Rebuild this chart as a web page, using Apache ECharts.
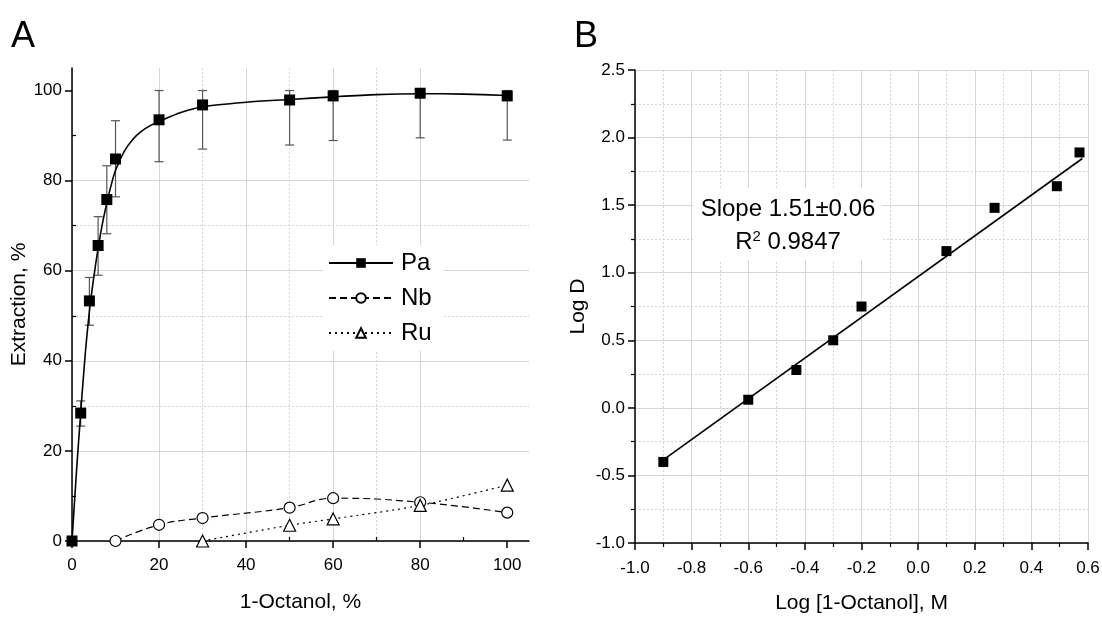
<!DOCTYPE html>
<html>
<head>
<meta charset="utf-8">
<script src="https://cdn.jsdelivr.net/npm/echarts@6/dist/echarts.min.js"></script>
<style>
html,body{margin:0;padding:0;background:#fff;}
#main{width:1102px;height:617px;}
</style>
</head>
<body>
<div id="main"></div>
<script>
// ---- Panel A data ----
const paX  = [0, 2, 4, 6, 8, 10, 20, 30, 50, 60, 80, 100];
const paY  = [0, 28.4, 53.3, 65.6, 75.8, 84.8, 93.5, 96.8, 97.9, 98.8, 99.4, 98.8];
const paLo = [null, 25.5, 47.9, 59.0, 68.2, 76.4, 84.2, 87.0, 87.9, 88.9, 89.5, 89.0];
const paHi = [null, 31.1, 58.5, 72.0, 83.3, 93.3, 100, 100, 100, 100, 100, 100];
// fitted Pa curve
const paFitX = [0, 1, 2, 3, 4, 5, 6, 7, 8, 9, 10, 12, 14, 16, 18, 20, 25, 30, 40, 50, 60, 70, 80, 90, 100];
const paFitY = [0, 15, 28.5, 41, 51, 58.5, 65, 70.5, 75, 79, 82.3, 86.5, 89.2, 91, 92.2, 93.1, 95.1, 96.4, 97.4, 98.0, 98.6, 99.1, 99.3, 99.2, 98.9];
const nbX  = [10, 20, 30, 50, 60, 80, 100];
const nbY  = [0, 3.6, 5.1, 7.4, 9.5, 8.6, 6.3];
const ruX  = [30, 50, 60, 80, 100];
const ruY  = [0, 3.5, 4.9, 7.9, 12.4];
const aXTicks = [0, 20, 40, 60, 80, 100];
const aYTicks = [0, 20, 40, 60, 80, 100];
const aXMinor = [10, 30, 50, 70, 90];
const aYMinor = [10, 30, 50, 70, 90];

// ---- Panel B data ----
const logC = [-0.9, -0.6, -0.43, -0.3, -0.2, 0.1, 0.27, 0.49, 0.57];
const logD = [-0.40, 0.06, 0.28, 0.50, 0.75, 1.16, 1.48, 1.64, 1.89];
const fitX = [-0.9, 0.58];
const fitY = [-0.385, 1.845];

const FONT = "'Liberation Sans', Arial, sans-serif";
const zip = (a, b) => a.map((v, i) => [v, b[i]]);

const chart = echarts.init(document.getElementById('main'), null, {renderer: 'canvas'});

const axisLineStyle = {show: true, onZero: false, lineStyle: {color: '#000', width: 1.5}};
const majorSplit = {show: true, lineStyle: {color: '#d6d6d6', width: 1, type: 'solid'}};
const minorSplit = {show: true, showMinLine: false, showMaxLine: false, lineStyle: {color: '#d6d6d6', width: 1, type: [2, 2]}};
const labelStyle = {color: '#000', fontSize: 17, fontFamily: FONT};
const nameStyle = {color: '#000', fontSize: 21, fontFamily: FONT};

const option = {
  animation: false,
  backgroundColor: '#fff',
  grid: [
    {left: 72, top: 68, width: 457, height: 473, containLabel: false, outerBoundsMode: 'none'},
    {left: 635, top: 70, width: 453, height: 473, containLabel: false, outerBoundsMode: 'none'}
  ],
  xAxis: [
    { // A main
      type: 'value', gridIndex: 0, min: 0, max: 105, interval: 20,
      axisLine: axisLineStyle,
      axisTick: {show: true, inside: false, length: 7, lineStyle: {color: '#000', width: 1.5}, customValues: aXTicks},
      axisLabel: Object.assign({margin: 16, customValues: aXTicks}, labelStyle),
      splitLine: Object.assign({showMaxLine: false}, majorSplit),
      name: '1-Octanol, %', nameLocation: 'middle', nameGap: 51, nameMoveOverlap: false, nameTextStyle: nameStyle
    },
    { // A minor overlay
      type: 'value', gridIndex: 0, min: 0, max: 105, interval: 10,
      axisLine: {show: false},
      axisTick: {show: true, length: 4, lineStyle: {color: '#000', width: 1.2}, customValues: aXMinor},
      axisLabel: {show: false},
      splitLine: minorSplit
    },
    { // B
      type: 'value', gridIndex: 1, min: -1.0, max: 0.6, interval: 0.2,
      axisLine: axisLineStyle,
      axisTick: {show: true, length: 7, lineStyle: {color: '#000', width: 1.5}},
      minorTick: {show: true, splitNumber: 2, length: 4, lineStyle: {color: '#000', width: 1.2}},
      axisLabel: Object.assign({margin: 17, formatter: v => v.toFixed(1)}, labelStyle),
      splitLine: majorSplit,
      minorSplitLine: {show: true, lineStyle: {color: '#d6d6d6', width: 1, type: [2, 2]}},
      name: 'Log [1-Octanol], M', nameLocation: 'middle', nameGap: 50, nameMoveOverlap: false, nameTextStyle: nameStyle
    }
  ],
  yAxis: [
    { // A main
      type: 'value', gridIndex: 0, min: 0, max: 105, interval: 20,
      axisLine: axisLineStyle,
      axisTick: {show: true, length: 7, lineStyle: {color: '#000', width: 1.5}, customValues: aYTicks},
      axisLabel: Object.assign({margin: 10, customValues: aYTicks}, labelStyle),
      splitLine: Object.assign({showMaxLine: false}, majorSplit),
      name: 'Extraction, %', nameLocation: 'middle', nameGap: 42, nameMoveOverlap: false, nameTextStyle: nameStyle
    },
    { // A minor overlay
      type: 'value', gridIndex: 0, min: 0, max: 105, interval: 10,
      axisLine: {show: false},
      axisTick: {show: true, length: 4, lineStyle: {color: '#000', width: 1.2}, customValues: aYMinor},
      axisLabel: {show: false},
      splitLine: minorSplit
    },
    { // B
      type: 'value', gridIndex: 1, min: -1.0, max: 2.5, interval: 0.5,
      axisLine: axisLineStyle,
      axisTick: {show: true, length: 7, lineStyle: {color: '#000', width: 1.5}},
      minorTick: {show: true, splitNumber: 2, length: 4, lineStyle: {color: '#000', width: 1.2}},
      axisLabel: Object.assign({margin: 10, formatter: v => v.toFixed(1)}, labelStyle),
      splitLine: majorSplit,
      minorSplitLine: {show: true, lineStyle: {color: '#d6d6d6', width: 1, type: [2, 2]}},
      name: 'Log D', nameLocation: 'middle', nameGap: 46, nameMoveOverlap: false, nameTextStyle: nameStyle
    }
  ],
  legend: {
    show: true,
    left: 323, top: 245,
    orient: 'vertical',
    padding: [6, 12, 6, 5],
    backgroundColor: '#fff',
    itemWidth: 64, itemHeight: 12, itemGap: 11,
    lineStyle: {opacity: 1},
    textStyle: {color: '#000', fontSize: 24, fontFamily: FONT, padding: [0, 0, 0, 3]},
    data: ['Pa', 'Nb', 'Ru']
  },
  graphic: [
    {type: 'text', left: 11, top: 19, style: {text: 'A', font: '36px ' + FONT, fill: '#000'}},
    {type: 'text', left: 574, top: 19, style: {text: 'B', font: '36px ' + FONT, fill: '#000'}},
    {type: 'rect', shape: {x: 693, y: 188, width: 189, height: 72}, style: {fill: '#fff'}, z: 50},
    {type: 'text', z: 51, style: {x: 788, y: 209, text: 'Slope 1.51\u00b10.06', textAlign: 'center', textVerticalAlign: 'middle', font: '24px ' + FONT, fill: '#000'}},
    {type: 'text', z: 51, style: {x: 788, y: 242, text: 'R{sup|2} 0.9847', textAlign: 'center', textVerticalAlign: 'middle', font: '24px ' + FONT, fill: '#000',
      rich: {sup: {fontSize: 15, fontFamily: FONT, verticalAlign: 'top', padding: [0, 0, 10, 0]}}}}
  ],
  series: [
    {
      name: 'Pa-err', type: 'custom', xAxisIndex: 0, yAxisIndex: 0, z: 2,
      data: paX.map((x, i) => [x, paLo[i], paHi[i]]).filter(d => d[1] !== null),
      renderItem: function (params, api) {
        const x = api.value(0);
        const top = api.coord([x, api.value(2)]);
        const bot = api.coord([x, api.value(1)]);
        const w = 4.5;
        const st = {stroke: '#555', lineWidth: 1.2};
        return {type: 'group', children: [
          {type: 'line', shape: {x1: top[0], y1: top[1], x2: bot[0], y2: bot[1]}, style: st},
          {type: 'line', shape: {x1: top[0] - w, y1: top[1], x2: top[0] + w, y2: top[1]}, style: st},
          {type: 'line', shape: {x1: bot[0] - w, y1: bot[1], x2: bot[0] + w, y2: bot[1]}, style: st}
        ]};
      }
    },
    {
      name: 'Pa-fit', type: 'line', xAxisIndex: 0, yAxisIndex: 0, z: 3,
      data: zip(paFitX, paFitY), smooth: 0.3, symbol: 'none',
      lineStyle: {color: '#000', width: 1.6}, clip: false
    },
    {
      name: 'Pa', type: 'line', xAxisIndex: 0, yAxisIndex: 0, z: 5,
      data: zip(paX, paY),
      symbol: 'rect', symbolSize: 11,
      itemStyle: {color: '#000', opacity: 1},
      lineStyle: {color: '#000', width: 1.6, opacity: 0},
      clip: false
    },
    {
      name: 'Nb', type: 'line', xAxisIndex: 0, yAxisIndex: 0, z: 4,
      data: zip(nbX, nbY), smooth: 0.45,
      symbol: 'circle', symbolSize: 11,
      itemStyle: {color: '#fff', borderColor: '#000', borderWidth: 1.2},
      lineStyle: {color: '#000', width: 1.2, type: [7, 4]},
      clip: false
    },
    {
      name: 'Ru', type: 'line', xAxisIndex: 0, yAxisIndex: 0, z: 4,
      data: zip(ruX, ruY), smooth: 0.3,
      symbol: 'triangle', symbolSize: 12,
      itemStyle: {color: '#fff', borderColor: '#000', borderWidth: 1.2},
      lineStyle: {color: '#000', width: 1.2, type: [2, 4]},
      clip: false
    },
    {
      name: 'fit', type: 'line', xAxisIndex: 2, yAxisIndex: 2, z: 3,
      data: zip(fitX, fitY), symbol: 'none',
      lineStyle: {color: '#000', width: 1.6}
    },
    {
      name: 'LogD', type: 'scatter', xAxisIndex: 2, yAxisIndex: 2, z: 5,
      data: zip(logC, logD), symbol: 'rect', symbolSize: 10,
      itemStyle: {color: '#000', opacity: 1}
    }
  ]
};
chart.setOption(option);
</script>
</body>
</html>
